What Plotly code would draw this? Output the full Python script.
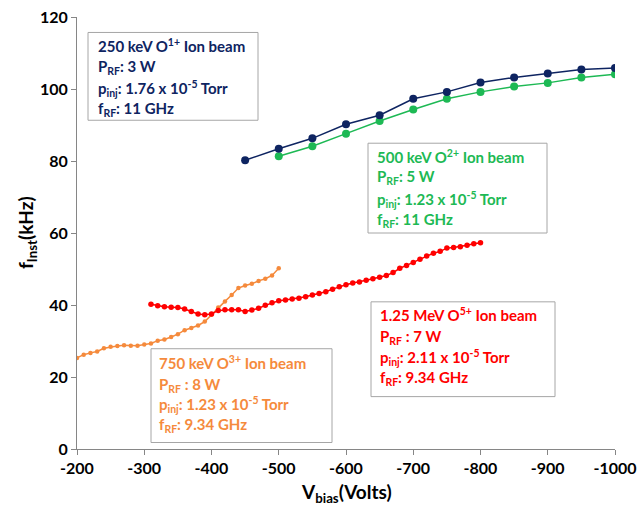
import plotly.graph_objects as go

# ---------------- data ----------------
v_250 = [-450, -500, -550, -600, -650, -700, -750, -800, -850, -900, -950, -1000]
f_250 = [80.2, 83.4, 86.3, 90.2, 92.7, 97.3, 99.2, 101.8, 103.2, 104.3, 105.4, 105.8]

v_500 = [-500, -550, -600, -650, -700, -750, -800, -850, -900, -950, -1000]
f_500 = [81.3, 84.1, 87.6, 91.1, 94.3, 97.3, 99.2, 100.7, 101.7, 103.2, 104.1]

v_750 = [-200, -210, -220, -230, -240, -250, -260, -270, -280, -290, -300,
         -310, -320, -330, -340, -350, -360, -370, -380, -390, -400,
         -410, -420, -430, -440, -450, -460, -470, -480, -490, -500]
f_750 = [25.3, 26.2, 26.7, 27.1, 28.0, 28.4, 28.6, 28.8, 28.7, 28.7, 29.0,
         29.3, 30.1, 30.4, 31.1, 31.9, 33.0, 33.6, 34.3, 35.4, 37.3,
         39.3, 41.0, 42.8, 44.7, 45.4, 45.9, 46.7, 47.3, 48.2, 50.2]

v_1250 = [-310, -320, -330, -340, -350, -360, -370, -380, -390, -400,
          -410, -420, -430, -440, -450, -460, -470, -480, -490, -500,
          -510, -520, -530, -540, -550, -560, -570, -580, -590, -600,
          -610, -620, -630, -640, -650, -660, -670, -680, -690, -700,
          -710, -720, -730, -740, -750, -760, -770, -780, -790, -800]
f_1250 = [40.2, 39.8, 39.5, 39.4, 39.3, 38.9, 38.2, 37.5, 37.3, 37.5,
          38.5, 38.7, 38.7, 38.7, 38.2, 38.6, 39.1, 39.9, 40.6, 41.2,
          41.4, 41.7, 41.9, 42.3, 42.8, 43.2, 43.7, 44.4, 45.1, 45.6,
          46.1, 46.4, 46.9, 47.3, 47.7, 48.2, 49.0, 50.2, 51.0, 51.8,
          52.7, 53.6, 54.4, 54.9, 55.8, 56.0, 56.2, 56.6, 57.0, 57.3]

x_ticks = [-200, -300, -400, -500, -600, -700, -800, -900, -1000]
y_ticks = [0, 20, 40, 60, 80, 100, 120]

text_250 = ["250 keV O<sup>1+</sup> Ion beam", "P<sub>RF</sub>: 3 W",
            "p<sub>inj</sub>: 1.76 x 10<sup>-5</sup> Torr", "f<sub>RF</sub>: 11 GHz"]
text_500 = ["500 keV O<sup>2+</sup> Ion beam", "P<sub>RF</sub>: 5 W",
            "p<sub>inj</sub>: 1.23 x 10<sup>-5</sup> Torr", "f<sub>RF</sub>: 11 GHz"]
text_1250 = ["1.25 MeV O<sup>5+</sup> Ion beam", "P<sub>RF</sub> : 7 W",
             "p<sub>inj</sub>: 2.11 x 10<sup>-5</sup> Torr", "f<sub>RF</sub>: 9.34 GHz"]
text_750 = ["750 keV O<sup>3+</sup> Ion beam", "P<sub>RF</sub> : 8 W",
            "p<sub>inj</sub>: 1.23 x 10<sup>-5</sup> Torr", "f<sub>RF</sub>: 9.34 GHz"]

NAVY = "#0E2461"
GREEN = "#1DB954"
RED = "#FF0000"
ORANGE = "#F58A3C"
FONT = "Lato"

# ---------------- layout geometry (pixels) ----------------
W, H = 639, 512
L, R, T, B = 77, 24, 16.5, 62.5
PW, PH = W - L - R, H - T - B


def px(x):
    return (x - L) / PW


def py(y):
    return (H - B - y) / PH


fig = go.Figure()
fig.add_trace(go.Scatter(x=v_750, y=f_750, mode="lines+markers",
                         line=dict(color=ORANGE, width=1.5),
                         marker=dict(size=4.5, color=ORANGE)))
fig.add_trace(go.Scatter(x=v_1250, y=f_1250, mode="lines+markers",
                         line=dict(color=RED, width=1.5),
                         marker=dict(size=5.5, color=RED)))
fig.add_trace(go.Scatter(x=v_500, y=f_500, mode="lines+markers",
                         line=dict(color=GREEN, width=1.5),
                         marker=dict(size=8, color=GREEN)))
fig.add_trace(go.Scatter(x=v_250, y=f_250, mode="lines+markers",
                         line=dict(color=NAVY, width=1.5),
                         marker=dict(size=8, color=NAVY)))

boxes = [
    (text_250, NAVY, (88, 32, 258, 120), 96, [45, 66.5, 88, 109]),
    (text_500, GREEN, (368, 143, 547, 233), 375, [156, 177, 199, 220]),
    (text_1250, RED, (371, 302, 555, 397), 378, [315, 337, 358, 378]),
    (text_750, ORANGE, (151, 349, 332, 443), 157, [363, 385, 405, 425]),
]

shapes = []
annotations = []
for lines, col, (x0, y0, x1, y1), tx, tys in boxes:
    shapes.append(dict(type="rect", xref="paper", yref="paper",
                       x0=px(x0), x1=px(x1), y0=py(y1), y1=py(y0),
                       line=dict(color="#A6A6A6", width=1),
                       fillcolor="white", layer="above"))
    for t, ty in zip(lines, tys):
        annotations.append(dict(text="<b>" + t + "</b>", xref="paper", yref="paper",
                                x=px(tx), y=py(ty), xanchor="left", yanchor="middle",
                                showarrow=False,
                                font=dict(family=FONT, size=15, color=col)))

annotations.append(dict(text="<b>V<sub>bias</sub>(Volts)</b>", xref="paper", yref="paper",
                        x=px(346), y=py(494), xanchor="center", yanchor="middle",
                        showarrow=False, font=dict(family=FONT, size=19, color="#000")))
annotations.append(dict(text="<b>f<sub>Inst</sub>(kHz)</b>", xref="paper", yref="paper",
                        x=px(27), y=py(233), xanchor="center", yanchor="middle",
                        textangle=-90, showarrow=False,
                        font=dict(family=FONT, size=19, color="#000")))

fig.update_layout(
    width=W, height=H,
    margin=dict(l=L, r=R, t=T, b=B, autoexpand=False),
    plot_bgcolor="white", paper_bgcolor="white",
    showlegend=False,
    shapes=shapes,
    annotations=annotations,
    xaxis=dict(range=[-200, -1000], tickmode="array", tickvals=x_ticks,
               ticktext=["<b>%d</b>" % v for v in x_ticks],
               showgrid=False, zeroline=False, automargin=False,
               showline=True, linecolor="#868686", linewidth=1,
               ticks="outside", ticklen=5, tickcolor="#868686",
               tickfont=dict(family=FONT, size=16, color="#000")),
    yaxis=dict(range=[0, 120], tickmode="array", tickvals=y_ticks,
               ticktext=["<b>%d</b>" % v for v in y_ticks],
               showgrid=False, zeroline=False, automargin=False,
               showline=True, linecolor="#868686", linewidth=1,
               ticks="outside", ticklen=5, tickcolor="#868686",
               tickfont=dict(family=FONT, size=16, color="#000")),
)

fig.write_html("out.html", config={"displayModeBar": False},
               post_script="document.body.style.margin='0';document.body.style.overflow='hidden';")
